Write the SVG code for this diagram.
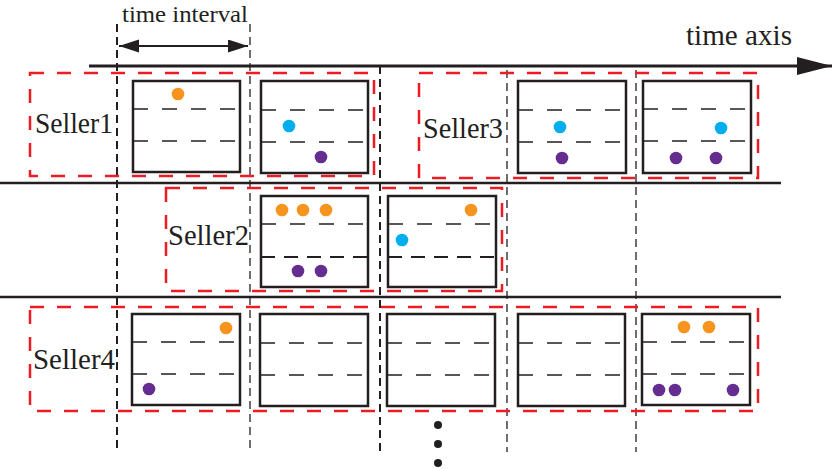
<svg xmlns="http://www.w3.org/2000/svg" width="835" height="469" viewBox="0 0 835 469">
<style>
  .txt{font-family:'Liberation Serif','DejaVu Serif',serif;fill:#231f20}
  .seller{fill:none;stroke:#ed1c24;stroke-width:2.5;stroke-dasharray:14 13}
  .slot{fill:#fff;stroke:#231f20;stroke-width:2.5}
  .div{stroke:#231f20;stroke-width:1.3;stroke-dasharray:15 14}
  .vthick{stroke:#231f20;stroke-width:2;stroke-dasharray:8 5;fill:none}
  .vthin{stroke:#231f20;stroke-width:1.3;stroke-dasharray:8 5;fill:none}
  .hline{stroke:#231f20;stroke-width:2.5}
  .o{fill:#f7941d}.b{fill:#00aeef}.p{fill:#662d91}.k{fill:#231f20}
</style>
<defs>
  <marker id="ah" markerUnits="userSpaceOnUse" markerWidth="22" markerHeight="14" refX="20" refY="6.5" orient="auto-start-reverse" viewBox="0 0 22 14">
    <path d="M0,0 L20,6.5 L0,13 Z" fill="#231f20"/>
  </marker>
  <marker id="axh" markerUnits="userSpaceOnUse" markerWidth="36" markerHeight="20" refX="35" refY="9" orient="auto" viewBox="0 0 36 20">
    <path d="M0,0 L35,9 L0,18 Z" fill="#231f20"/>
  </marker>
</defs>
<rect width="835" height="469" fill="#fff"/>

<g id="connectors">
  <line x1="89" y1="66" x2="832" y2="66" stroke="#231f20" stroke-width="3" marker-end="url(#axh)"/>
  <line class="hline" x1="0" y1="183" x2="781" y2="183"/>
  <line class="hline" x1="0" y1="297" x2="781" y2="297"/>
  <line class="vthick" x1="117" y1="24" x2="117" y2="449"/>
  <line class="vthin" x1="250" y1="24" x2="250" y2="451"/>
  <line class="vthick" x1="380" y1="66" x2="380" y2="451"/>
  <line class="vthin" x1="507" y1="70" x2="507" y2="452"/>
  <line class="vthin" x1="636" y1="70" x2="636" y2="452"/>
  <line x1="119" y1="46" x2="248" y2="46" stroke="#231f20" stroke-width="2" marker-start="url(#ah)" marker-end="url(#ah)"/>
  <text class="txt" x="122" y="22" font-size="24" textLength="126" lengthAdjust="spacingAndGlyphs">time interval</text>
  <text class="txt" x="686" y="45" font-size="29" textLength="106" lengthAdjust="spacingAndGlyphs">time axis</text>
</g>

<g id="seller1">
  <rect class="seller" x="30" y="73" width="344" height="103"/>
  <text class="txt" x="35" y="133" font-size="29" textLength="78" lengthAdjust="spacingAndGlyphs">Seller1</text>
  <rect class="slot" x="133" y="81" width="107" height="91"/>
  <line class="div" x1="133" y1="109" x2="240" y2="109"/>
  <line class="div" x1="133" y1="141" x2="240" y2="141"/>
  <circle class="o" cx="178" cy="94" r="6.3"/>
  <rect class="slot" x="261" y="81" width="107" height="92"/>
  <line class="div" x1="261" y1="110" x2="368" y2="110"/>
  <line class="div" x1="261" y1="142" x2="368" y2="142"/>
  <circle class="b" cx="289" cy="126" r="6.3"/>
  <circle class="p" cx="321" cy="157" r="6.3"/>
</g>

<g id="seller3">
  <rect class="seller" x="419" y="73" width="339" height="105"/>
  <text class="txt" x="423" y="138" font-size="29" textLength="80" lengthAdjust="spacingAndGlyphs">Seller3</text>
  <rect class="slot" x="518" y="81" width="108" height="92"/>
  <line class="div" x1="518" y1="110" x2="626" y2="110"/>
  <line class="div" x1="518" y1="142" x2="626" y2="142"/>
  <circle class="b" cx="560" cy="127" r="6.3"/>
  <circle class="p" cx="562" cy="158" r="6.3"/>
  <rect class="slot" x="643" y="81" width="108" height="92"/>
  <line class="div" x1="643" y1="109" x2="751" y2="109"/>
  <line class="div" x1="643" y1="141" x2="751" y2="141"/>
  <circle class="b" cx="721" cy="128" r="6.3"/>
  <circle class="p" cx="676" cy="158" r="6.3"/>
  <circle class="p" cx="716" cy="158" r="6.3"/>
</g>

<g id="seller2">
  <rect class="seller" x="166" y="188" width="336" height="103"/>
  <text class="txt" x="168" y="245" font-size="29" textLength="81" lengthAdjust="spacingAndGlyphs">Seller2</text>
  <rect class="slot" x="261" y="196" width="107" height="91"/>
  <line class="div" x1="261" y1="224" x2="368" y2="224"/>
  <line x1="261" y1="257" x2="368" y2="257" stroke="#231f20" stroke-width="2" stroke-dasharray="14 9"/>
  <circle class="o" cx="282" cy="210" r="6.3"/>
  <circle class="o" cx="303" cy="210" r="6.3"/>
  <circle class="o" cx="326" cy="210" r="6.3"/>
  <circle class="p" cx="298" cy="271" r="6.3"/>
  <circle class="p" cx="321" cy="271" r="6.3"/>
  <rect class="slot" x="388" y="196" width="108" height="91"/>
  <line class="div" x1="388" y1="224" x2="496" y2="224"/>
  <line x1="388" y1="257" x2="496" y2="257" stroke="#231f20" stroke-width="2" stroke-dasharray="14 9"/>
  <circle class="o" cx="471" cy="210" r="6.3"/>
  <circle class="b" cx="402" cy="240" r="6.3"/>
</g>

<g id="seller4">
  <rect class="seller" x="30" y="307" width="728" height="104"/>
  <text class="txt" x="33" y="369" font-size="29" textLength="82" lengthAdjust="spacingAndGlyphs">Seller4</text>
  <rect class="slot" x="132" y="314" width="108" height="91"/>
  <line class="div" x1="132" y1="342" x2="240" y2="342"/>
  <line class="div" x1="132" y1="374" x2="240" y2="374"/>
  <circle class="o" cx="226" cy="328" r="6.3"/>
  <circle class="p" cx="149" cy="389" r="6.3"/>
  <rect class="slot" x="260" y="314" width="108" height="92"/>
  <line class="div" x1="260" y1="343" x2="368" y2="343"/>
  <line class="div" x1="260" y1="375" x2="368" y2="375"/>
  <rect class="slot" x="387" y="314" width="108" height="92"/>
  <line class="div" x1="387" y1="343" x2="495" y2="343"/>
  <line class="div" x1="387" y1="375" x2="495" y2="375"/>
  <rect class="slot" x="518" y="314" width="107" height="92"/>
  <line class="div" x1="518" y1="343" x2="625" y2="343"/>
  <line class="div" x1="518" y1="375" x2="625" y2="375"/>
  <rect class="slot" x="642" y="314" width="108" height="91"/>
  <line class="div" x1="642" y1="342" x2="750" y2="342"/>
  <line class="div" x1="642" y1="374" x2="750" y2="374"/>
  <circle class="o" cx="684" cy="327" r="6.3"/>
  <circle class="o" cx="709" cy="327" r="6.3"/>
  <circle class="p" cx="659" cy="390" r="6.3"/>
  <circle class="p" cx="675" cy="390" r="6.3"/>
  <circle class="p" cx="733" cy="390" r="6.3"/>
</g>

<g id="ellipsis">
  <circle class="k" cx="438" cy="425" r="4"/>
  <circle class="k" cx="438" cy="444" r="4"/>
  <circle class="k" cx="438" cy="463" r="4"/>
</g>
</svg>
